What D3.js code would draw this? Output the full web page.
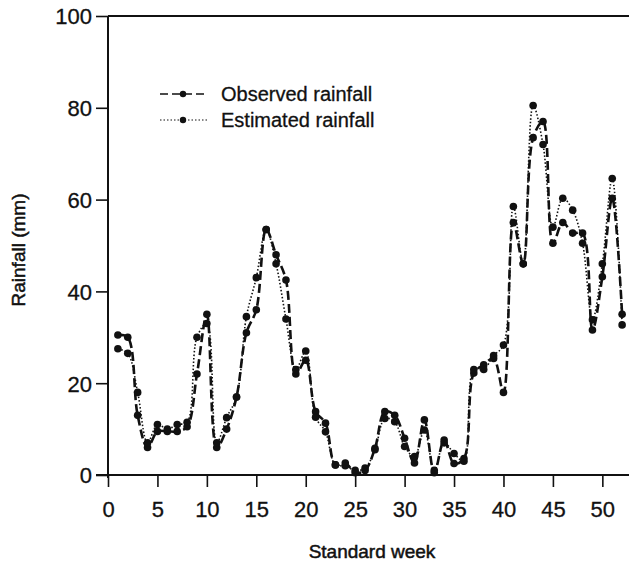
<!DOCTYPE html>
<html>
<head>
<meta charset="utf-8">
<script src="https://cdn.jsdelivr.net/npm/d3@7"></script>
<style>
  html, body { margin: 0; padding: 0; background: #fff; }
  svg text { font-family: "Liberation Sans", Arial, sans-serif; fill: #111; }
</style>
</head>
<body>
<div id="chart"></div>
<script>
// weeks 1..52
const weeks = d3.range(1, 53);
const observed = [30.5, 30, 13, 6, 9.5, 9.5, 9.5, 10.5, 22, 35,
  6, 10, 17, 31, 36, 53.5, 48, 42.5, 22, 25,
  13.8, 11.3, 2.2, 2.6, 0.5, 1, 5.8, 13.8, 13, 8,
  2.6, 12, 0.5, 7.6, 2.5, 3.6, 22.2, 24, 25.4, 18,
  55, 46, 73.5, 77, 50.5, 55, 52.7, 52.7, 31.6, 43.2,
  60.3, 35];
const estimated = [27.5, 26.5, 18, 7, 11, 10, 11, 11.5, 30, 33,
  7, 12.5, 17, 34.5, 43, 53.5, 46, 34, 23, 27,
  12.6, 9.4, 2.2, 2, 1, 1.5, 5.5, 12.3, 11.6, 6.2,
  4, 9.8, 1, 7, 4.7, 3, 23, 23, 26, 28.3,
  58.5, 46, 80.5, 72, 54, 60.3, 57.7, 50.5, 33.8, 46,
  64.6, 32.7];
const xTicks = [0, 5, 10, 15, 20, 25, 30, 35, 40, 45, 50];
const yTicks = [0, 20, 40, 60, 80, 100];
const seriesNames = ["Observed rainfall", "Estimated rainfall"];

const width = 629, height = 567;
const svg = d3.select("#chart").append("svg")
  .attr("width", width).attr("height", height);

const x = d3.scaleLinear().domain([0, 53]).range([108, 632]);
const y = d3.scaleLinear().domain([0, 100]).range([475, 16]);

// frame: top line runs off the right edge
svg.append("line")
  .attr("x1", x(0)).attr("x2", width)
  .attr("y1", y(100)).attr("y2", y(100))
  .attr("stroke", "#111").attr("stroke-width", 2);
svg.append("line")
  .attr("x1", x(0)).attr("x2", x(0))
  .attr("y1", y(100)).attr("y2", y(0) + 3)
  .attr("stroke", "#111").attr("stroke-width", 2);
svg.append("line")
  .attr("x1", 96).attr("x2", width)
  .attr("y1", y(0)).attr("y2", y(0))
  .attr("stroke", "#111").attr("stroke-width", 2);

// x axis
const xa = svg.append("g").attr("transform", `translate(0,${y(0)})`)
  .call(d3.axisBottom(x).tickValues(xTicks).tickSize(12).tickPadding(14));
xa.select(".domain").remove();
xa.selectAll(".tick line").attr("stroke", "#111").attr("stroke-width", 1.6);
xa.selectAll(".tick text").attr("font-size", 22).attr("fill", "#111")
  .attr("stroke", "#111").attr("stroke-width", 0.3)
  .style("font-family", "'Liberation Sans', Arial, sans-serif");

// y axis
const ya = svg.append("g").attr("transform", `translate(${x(0)},0)`)
  .call(d3.axisLeft(y).tickValues(yTicks).tickSize(12).tickPadding(4));
ya.select(".domain").remove();
ya.selectAll(".tick line").attr("stroke", "#111").attr("stroke-width", 1.6);
ya.selectAll(".tick text").attr("font-size", 22).attr("fill", "#111")
  .attr("stroke", "#111").attr("stroke-width", 0.3)
  .attr("dy", "0.36em")
  .style("font-family", "'Liberation Sans', Arial, sans-serif");

// axis titles
svg.append("text")
  .attr("transform", `translate(25,250) rotate(-90)`)
  .attr("text-anchor", "middle")
  .attr("font-size", 19)
  .attr("stroke", "#111").attr("stroke-width", 0.5)
  .text("Rainfall (mm)");
svg.append("text")
  .attr("x", 372).attr("y", 558)
  .attr("text-anchor", "middle")
  .attr("font-size", 19)
  .attr("stroke", "#111").attr("stroke-width", 0.5)
  .text("Standard week");

const line = d3.line()
  .x((d, i) => x(weeks[i]))
  .y(d => y(d))
  .curve(d3.curveCatmullRom.alpha(0.5));

const styles = [
  { data: observed, width: 2.6, dash: "9,4" },
  { data: estimated, width: 1.6, dash: "1.5,2" }
];

styles.forEach(s => {
  svg.append("path")
    .datum(s.data)
    .attr("d", line)
    .attr("fill", "none")
    .attr("stroke", "#111")
    .attr("stroke-width", s.width)
    .attr("stroke-dasharray", s.dash);
  svg.append("g").selectAll("circle")
    .data(s.data)
    .enter().append("circle")
    .attr("cx", (d, i) => x(weeks[i]))
    .attr("cy", d => y(d))
    .attr("r", 3.8)
    .attr("fill", "#111");
});

// legend
const legend = svg.append("g");
seriesNames.forEach((name, i) => {
  const ly = 94 + i * 26;
  legend.append("line")
    .attr("x1", 160).attr("x2", 207)
    .attr("y1", ly).attr("y2", ly)
    .attr("stroke", "#111")
    .attr("stroke-width", i === 0 ? 1.6 : 1.2)
    .attr("stroke-dasharray", i === 0 ? "8,4" : "1.5,2");
  legend.append("circle")
    .attr("cx", 183).attr("cy", ly).attr("r", 3.2).attr("fill", "#111");
  legend.append("text")
    .attr("x", 221).attr("y", ly + 7)
    .attr("font-size", 20)
    .attr("stroke", "#111").attr("stroke-width", 0.3)
    .text(name);
});
</script>
</body>
</html>
